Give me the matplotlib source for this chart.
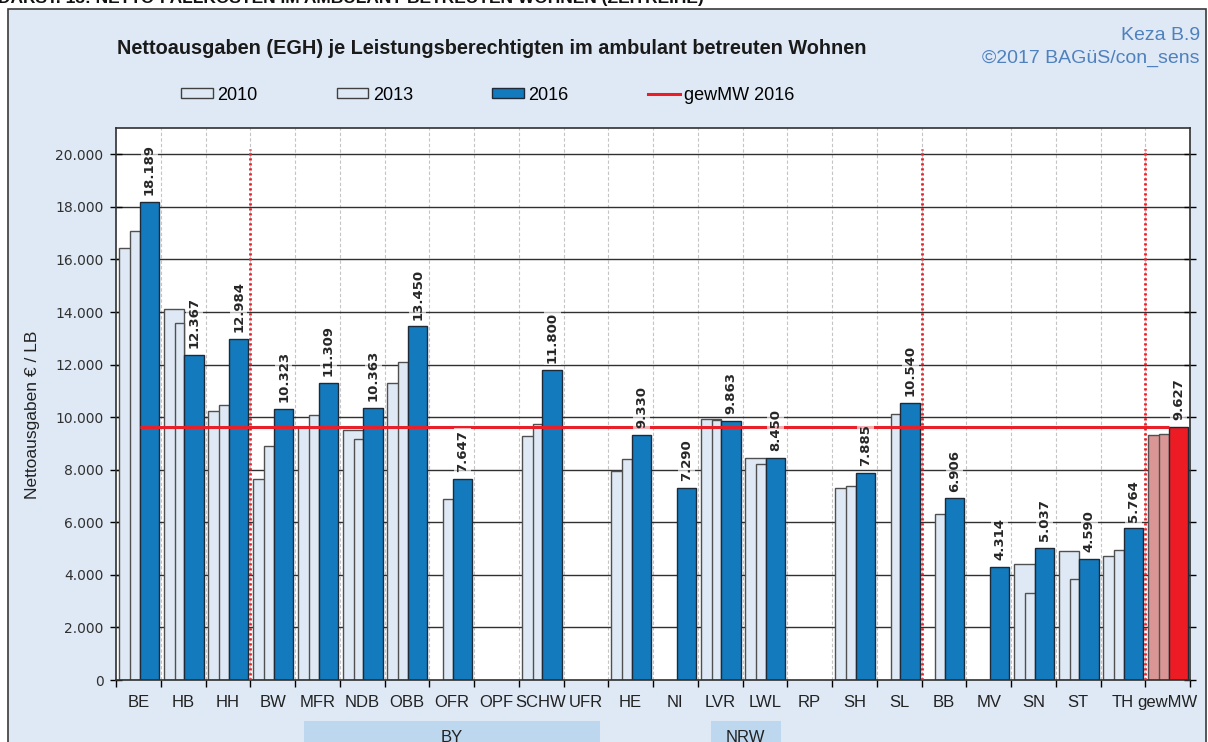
import numpy as np
import matplotlib
matplotlib.use("Agg")
import matplotlib.pyplot as plt
from matplotlib.patches import Rectangle, Patch
from matplotlib.lines import Line2D
from matplotlib.ticker import FuncFormatter
import matplotlib.transforms as mtransforms

# data (Nettoausgaben je LB)
regions = ["BE", "HB", "HH", "BW", "MFR", "NDB", "OBB", "OFR", "OPF", "SCHW", "UFR",
           "HE", "NI", "LVR", "LWL", "RP", "SH", "SL", "BB", "MV", "SN", "ST", "TH", "gewMW"]
v2010 = [16450, 14100, 10220, 7650, 9620, 9500, 11280, None, None, 9270, None,
         7940, None, 9930, 8440, None, 7300, None, None, None, 4410, 4890, 4700, 9320]
v2013 = [17100, 13590, 10460, 8890, 10090, 9170, 12100, 6880, None, 9750, None,
         8410, None, 9880, 8220, None, 7370, 10130, 6310, None, 3300, 3840, 4950, 9370]
v2016 = [18189, 12367, 12984, 10323, 11309, 10363, 13450, 7647, None, 11800, None,
         9330, 7290, 9863, 8450, None, 7885, 10540, 6906, 4314, 5037, 4590, 5764, 9627]
mean_2016 = 9627
separators = [3, 18, 23]
groups = [("BY", 4.2, 10.82), ("NRW", 13.29, 14.86)]

title = "Nettoausgaben (EGH) je Leistungsberechtigten im ambulant betreuten Wohnen"
header = "DARST. 13: NETTO-FALLKOSTEN IM AMBULANT BETREUTEN WOHNEN (ZEITREIHE)"

ARIAL = "Liberation Sans"
BG = "#dfe9f5"
LIGHT = "#dfe9f5"
BLUE = "#127abd"
RED = "#ed1c24"
PINK = "#d99694"

fig = plt.figure(figsize=(12.08, 7.42), dpi=100)
W, H = 1208, 742

# outer frame
fig.patches.append(Rectangle((8 / W, -0.05), (1206 - 8) / W, 1.05 - 9 / H,
                             transform=fig.transFigure, facecolor=BG,
                             edgecolor="#3a3a3a", lw=1.2, zorder=-10))
fig.text(-2 / W, 1 - 3 / H, header, fontsize=12.5, fontweight="bold",
         family=ARIAL, va="baseline", ha="left", color="#111111")

ax = fig.add_axes([116 / W, 62 / H, (1190 - 116) / W, (680 - 128) / H])
ax.set_facecolor("white")
x = np.arange(len(regions))


def draw(vals, off, width, colors, edge):
    idx = [i for i, v in enumerate(vals) if v is not None]
    ax.bar(x[idx] + off, [vals[i] for i in idx], width=width, align="edge",
           color=[colors[i] for i in idx], edgecolor=edge, lw=1.0, zorder=2)


c_light = [LIGHT] * 23 + [PINK]
c_blue = [BLUE] * 23 + [RED]
draw(v2010, 0.067, 0.463, c_light, "#505050")
draw(v2013, 0.31, 0.22, c_light, "#505050")
draw(v2016, 0.53, 0.43, c_blue, "#1e2a38")

# grid lines
ax.hlines(np.arange(2000, 21000, 2000), 0, len(regions), colors="#303030", lw=1.0, zorder=1)
ax.vlines(np.arange(1, len(regions)), 0, 21000, colors="#c4c4c4",
          linestyles=(0, (3, 2)), lw=0.8, zorder=0.5)

# mean line and separators
ax.hlines(mean_2016, 0.53, len(regions) - 1 + 0.53, colors="#e8202a", lw=2.2, zorder=4)
ax.vlines(separators, 0, 20200, colors=RED, linestyles=(0, (0.8, 1.0)), lw=2.0, zorder=5)

# value labels
for i, v in enumerate(v2016):
    if v is None:
        continue
    ax.annotate(f"{v:,}".replace(",", "."), xy=(i + 0.745, v), xytext=(0, 5),
                textcoords="offset points", rotation=90, ha="center", va="bottom",
                fontsize=9.5, fontweight="bold", color="#262626", zorder=6,
                bbox=dict(boxstyle="square,pad=0.15", fc="white", ec="none", alpha=0.65))

ax.set_xlim(0, len(regions))
ax.set_ylim(0, 21000)
ax.set_yticks(np.arange(0, 20001, 2000))
ax.yaxis.set_major_formatter(FuncFormatter(lambda v, p: f"{int(v):,}".replace(",", ".")))
ax.tick_params(axis="y", direction="inout", length=8, width=1, right=True,
               labelsize=10, labelcolor="#303030", pad=5)
ax.set_xticks(x + 0.5)
ax.set_xticklabels(regions, family=ARIAL, fontsize=12, color="#222222")
ax.set_xticks(np.arange(0, len(regions) + 1), minor=True)
ax.tick_params(axis="x", which="major", length=0, pad=11)
ax.tick_params(axis="x", which="minor", length=5, width=1, direction="out")
for s in ax.spines.values():
    s.set_color("#303030")
    s.set_linewidth(1.2)

ax.set_ylabel("Nettoausgaben € / LB", family=ARIAL, fontsize=12.5, color="#222222")
ax.yaxis.set_label_coords(-0.071, 0.48)

# group boxes under the axis
trans = mtransforms.blended_transform_factory(ax.transData, fig.transFigure)
for name, x0, x1 in groups:
    fig.patches.append(Rectangle((x0, -0.02), x1 - x0, 0.02 + 21 / H, transform=trans,
                                 facecolor="#bdd7ee", edgecolor="none", zorder=-5))
    fig.text((x0 + x1) / 2, 1 - 737 / H, name, transform=trans, ha="center", va="center",
             family=ARIAL, fontsize=12, color="#222222")

# title and source
fig.text(492 / W, 1 - 48 / H, title, ha="center", va="center", fontsize=14.3,
         fontweight="bold", family=ARIAL, color="#1a1a1a")
fig.text(1200 / W, 1 - 36 / H, "Keza B.9", ha="right", va="center", fontsize=14,
         family=ARIAL, color="#4f81bd")
fig.text(1200 / W, 1 - 58 / H, "©2017 BAGüS/con_sens", ha="right", va="center",
         fontsize=14, family=ARIAL, color="#4f81bd")

handles = [Patch(facecolor=LIGHT, edgecolor="#404040"),
           Patch(facecolor=LIGHT, edgecolor="#404040"),
           Patch(facecolor=BLUE, edgecolor="#1e2a38"),
           Line2D([], [], color=RED, lw=2.2)]
fig.legend(handles, ["2010", "2013", "2016", "gewMW 2016"], loc="center left",
           bbox_to_anchor=(181 / W, 1 - 95 / H), ncol=4, frameon=False, borderpad=0,
           borderaxespad=0, handlelength=1.75, handleheight=0.5, handletextpad=0.25,
           columnspacing=4.4, prop={"family": ARIAL, "size": 13})

fig.savefig("out.png", dpi=100)
